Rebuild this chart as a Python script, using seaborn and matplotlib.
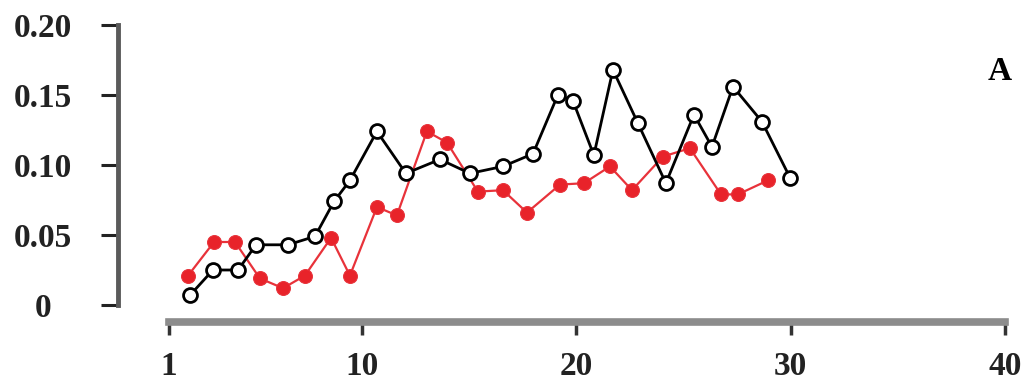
import numpy as np
import pandas as pd
import seaborn as sns
import matplotlib.pyplot as plt

# open circles (black series)
black_x = [1.98, 3.05, 4.22, 5.06, 6.55, 7.81, 8.70, 9.44, 10.70, 12.05, 13.64, 15.04, 16.58,
           17.98, 19.14, 19.84, 20.82, 21.71, 22.87, 24.18, 25.49, 26.33, 27.31, 28.66, 29.97]
black_y = [0.007, 0.025, 0.025, 0.043, 0.043, 0.049, 0.074, 0.089, 0.124, 0.094, 0.104, 0.094, 0.099,
           0.108, 0.150, 0.146, 0.107, 0.168, 0.130, 0.087, 0.136, 0.113, 0.156, 0.131, 0.091]

# filled circles (red series)
red_x = [1.89, 3.10, 4.08, 5.24, 6.32, 7.34, 8.56, 9.44, 10.70, 11.63, 13.03, 13.97,
         15.41, 16.58, 17.70, 19.24, 20.36, 21.57, 22.60, 24.04, 25.30, 26.75, 27.54, 28.94]
red_y = [0.021, 0.045, 0.045, 0.019, 0.012, 0.021, 0.048, 0.021, 0.070, 0.064, 0.124, 0.116,
         0.081, 0.082, 0.066, 0.086, 0.087, 0.099, 0.082, 0.106, 0.112, 0.079, 0.079, 0.089]

x_ticks = [1, 10, 20, 30, 40]
y_ticks = [0, 0.05, 0.10, 0.15, 0.20]
y_labels = ["0", "0.05", "0.10", "0.15", "0.20"]
panel = "A"

sns.set_style("ticks")
plt.rcParams["font.family"] = ["Liberation Serif", "DejaVu Serif"]

df_black = pd.DataFrame({"x": black_x, "y": black_y})
df_red = pd.DataFrame({"x": red_x, "y": red_y})

fig = plt.figure(figsize=(10.27, 3.85), dpi=100)
ax = fig.add_axes([169 / 1027, 1 - 305 / 385, (1005 - 169) / 1027, (305 - 25) / 385])

sns.lineplot(data=df_red, x="x", y="y", ax=ax, color="#e8323a", lw=1.6, sort=False,
             marker="o", markersize=10, markeredgecolor="#e8323a", markerfacecolor="#e8232a",
             zorder=2, clip_on=False)
sns.lineplot(data=df_black, x="x", y="y", ax=ax, color="black", lw=2, sort=False,
             marker="o", markersize=10, markeredgecolor="black", markerfacecolor="white",
             markeredgewidth=2, zorder=3, clip_on=False)

ax.set_xlim(1, 40)
ax.set_ylim(0, 0.20)
ax.set_xlabel("")
ax.set_ylabel("")

for s in ["top", "right"]:
    ax.spines[s].set_visible(False)
ax.spines["left"].set_position(("outward", 37))
ax.spines["bottom"].set_position(("outward", 12))
ax.spines["left"].set_bounds(0, 0.20)
ax.spines["bottom"].set_bounds(1, 40)
ax.spines["left"].set_linewidth(3.5)
ax.spines["left"].set_color("#5a5a5a")
ax.spines["bottom"].set_linewidth(5.5)
ax.spines["bottom"].set_color("#8c8c8c")

ax.set_xticks(x_ticks)
ax.set_xticklabels([str(t) for t in x_ticks])
ax.set_yticks(y_ticks)
ax.set_yticklabels(y_labels)
ax.tick_params(axis="y", direction="out", length=12, width=2.2, color="#222222", pad=42)
ax.tick_params(axis="x", direction="out", length=9, width=2.5, color="#333333", pad=12)
for lab in ax.get_yticklabels():
    lab.set_horizontalalignment("center")
    lab.set_fontsize(24)
    lab.set_fontweight("bold")
    lab.set_color("#222222")
for lab in ax.get_xticklabels():
    lab.set_fontsize(24)
    lab.set_fontweight("bold")
    lab.set_color("#222222")

fig.text(1000 / 1027, 1 - 72 / 385, panel, fontsize=24, fontweight="bold",
         ha="center", va="center", color="black")

fig.savefig("out.png", dpi=100)
